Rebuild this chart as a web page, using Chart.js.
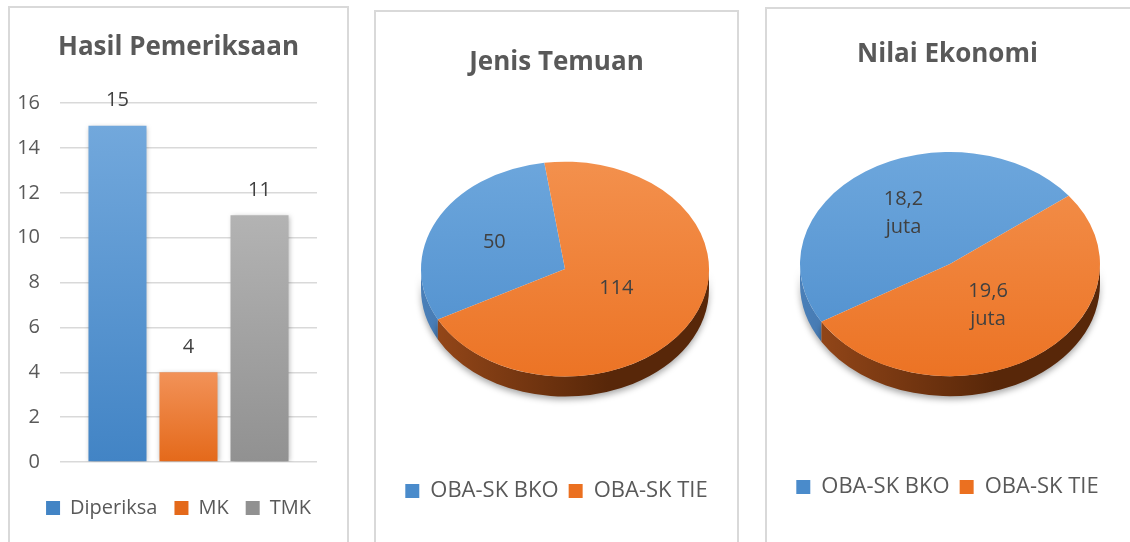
<!DOCTYPE html>
<html>
<head>
<meta charset="utf-8">
<script src="https://cdn.jsdelivr.net/npm/chart.js@4"></script>
<style>
  html, body { margin: 0; padding: 0; background: #fff; }
  body { width: 1130px; height: 542px; position: relative; overflow: hidden; }
  .panel { position: absolute; border: 2px solid #d9d9d9; box-sizing: border-box; height: 600px; }
  canvas { position: absolute; }
</style>
</head>
<body>
<div class="panel" style="left:8px; top:6px; width:341px;"></div>
<div class="panel" style="left:374px; top:10px; width:365px;"></div>
<div class="panel" style="left:765px; top:7px; width:368px;"></div>
<canvas id="hasilChart" width="337" height="534" style="left:10px; top:8px;"></canvas>
<canvas id="temuanChart" width="361" height="530" style="left:376px; top:12px;"></canvas>
<canvas id="ekonomiChart" width="361" height="533" style="left:767px; top:9px;"></canvas>
<script>
// Hasil Pemeriksaan
const hasilLabels = ['Diperiksa', 'MK', 'TMK'];
const hasilValues = [15, 4, 11];

// Jenis Temuan / Nilai Ekonomi
const pieLabels = ['OBA-SK BKO', 'OBA-SK TIE'];
const temuanValues = [50, 114];
const ekonomiValues = [18.2, 19.6]; // juta

const TEXT = '#595959';
const LABEL = '#404040';
Chart.defaults.font.family = "'Open Sans', sans-serif";
Chart.defaults.color = TEXT;
Chart.defaults.animation = false;

const barColors = [['#72a8dc', '#4284c5'], ['#f29258', '#e4691a'], ['#b3b3b3', '#919191']];

function barFill(pair) {
    return (c) => {
        const chart = c.chart;
        if (!chart.chartArea || !c.parsed) return pair[0];
        const ys = chart.scales.y;
        const g = chart.ctx.createLinearGradient(0, ys.getPixelForValue(c.parsed.y), 0, ys.getPixelForValue(0));
        g.addColorStop(0, pair[0]);
        g.addColorStop(1, pair[1]);
        return g;
    };
}

// soft shadow behind the bars + value labels above them
const barDecor = {
    id: 'barDecor',
    beforeDatasetsDraw(chart) {
        const ctx = chart.ctx;
        ctx.save();
        ctx.shadowColor = 'rgba(0,0,0,0.28)';
        ctx.shadowBlur = 5;
        ctx.shadowOffsetX = 1;
        ctx.shadowOffsetY = 1;
    },
    afterDatasetsDraw(chart) {
        const ctx = chart.ctx;
        ctx.restore();
        ctx.save();
        ctx.font = "20px 'Open Sans', sans-serif";
        ctx.fillStyle = LABEL;
        ctx.textAlign = 'center';
        ctx.textBaseline = 'middle';
        chart.data.datasets.forEach((ds, i) => {
            const bar = chart.getDatasetMeta(i).data[0];
            ctx.fillText(String(ds.data[0]), bar.x, bar.y - 25);
        });
        ctx.restore();
    }
};

new Chart(document.getElementById('hasilChart'), {
    type: 'bar',
    data: {
        labels: [''],
        datasets: hasilLabels.map((name, i) => ({
            label: name,
            data: [hasilValues[i]],
            backgroundColor: barFill(barColors[i]),
            borderWidth: 0,
            categoryPercentage: 0.829,
            barPercentage: 0.817
        }))
    },
    options: {
        responsive: false,
        layout: { padding: { left: 0, right: 0, top: 0, bottom: 14 } },
        scales: {
            x: {
                ticks: { display: false },
                grid: { display: false },
                border: { display: false },
                afterFit(s) { s.height = 19; }
            },
            y: {
                min: 0,
                max: 16,
                ticks: { stepSize: 2, padding: 20, color: TEXT, font: { size: 20 } },
                grid: { color: '#d9d9d9', lineWidth: 1.5, drawTicks: false },
                border: { display: false },
                afterFit(s) { s.width = 50; }
            },
            // empty right-hand gutter
            yRight: {
                position: 'right',
                ticks: { display: false },
                grid: { display: false },
                border: { display: false },
                afterFit(s) { s.width = 30; }
            }
        },
        plugins: {
            title: {
                display: true,
                text: 'Hasil Pemeriksaan',
                color: TEXT,
                font: { size: 26, weight: 'bold' },
                padding: { top: 24, bottom: 40 }
            },
            legend: {
                position: 'bottom',
                labels: { boxWidth: 14, boxHeight: 14, padding: 17, color: TEXT, font: { size: 20 } }
            },
            tooltip: { enabled: false }
        }
    },
    plugins: [barDecor]
});

// pies are drawn tilted: squashed vertically with an extruded rim
const pieTop = [['#70a9de', '#4a8bcb'], ['#f49452', '#eb7020']];
const pieSide = [['#4a7fb8', '#2f5d8f'], ['#98491a', '#582709']];

function pieFill(c) {
    const i = c.dataIndex;
    const chart = c.chart;
    const area = chart.chartArea;
    if (!area) return pieTop[i][0];
    const r = Math.min(area.right - area.left, area.bottom - area.top) / 2;
    const cy = (area.top + area.bottom) / 2;
    const g = chart.ctx.createLinearGradient(0, cy - r, 0, cy + r);
    g.addColorStop(0, pieTop[i][0]);
    g.addColorStop(1, pieTop[i][1]);
    return g;
}

const tiltPie = {
    id: 'tiltPie',
    beforeDatasetsDraw(chart, args, opts) {
        const arcs = chart.getDatasetMeta(0).data;
        const ctx = chart.ctx;
        ctx.save();
        if (!arcs.length) return;
        const cx = arcs[0].x, cy = arcs[0].y;
        ctx.translate(cx + opts.shiftX, cy + opts.shiftY);
        ctx.scale(1, opts.ratio);
        ctx.translate(-cx, -cy);
        const depth = opts.depth / opts.ratio;
        const TAU = Math.PI * 2;

        // rim, with a drop shadow under it
        ctx.save();
        ctx.shadowColor = 'rgba(0,0,0,0.35)';
        ctx.shadowBlur = 6;
        ctx.shadowOffsetY = 3;
        arcs.forEach((arc, i) => {
            const r = arc.outerRadius;
            let s = arc.startAngle % TAU;
            if (s < 0) s += TAU;
            const e = s + (arc.endAngle - arc.startAngle);
            [[0, Math.PI], [TAU, TAU + Math.PI]].forEach(([lo, hi]) => {
                const a = Math.max(s, lo), b = Math.min(e, hi);
                if (b <= a) return;
                ctx.beginPath();
                ctx.arc(cx, cy, r, a, b);
                ctx.arc(cx, cy + depth, r, b, a, true);
                ctx.closePath();
                const g = ctx.createLinearGradient(cx - r, 0, cx + r * 0.3, 0);
                g.addColorStop(0, pieSide[i][0]);
                g.addColorStop(1, pieSide[i][1]);
                ctx.fillStyle = g;
                ctx.fill();
            });
        });
        ctx.restore();
    },
    afterDatasetsDraw(chart, args, opts) {
        const ctx = chart.ctx;
        ctx.restore();
        const arcs = chart.getDatasetMeta(0).data;
        ctx.save();
        ctx.font = "20px 'Open Sans', sans-serif";
        ctx.fillStyle = LABEL;
        ctx.textAlign = 'center';
        ctx.textBaseline = 'middle';
        arcs.forEach((arc, i) => {
            const mid = (arc.startAngle + arc.endAngle) / 2;
            const rr = arc.outerRadius * opts.labelRadius[i];
            const x = arc.x + Math.cos(mid) * rr + opts.shiftX;
            const y = arc.y + opts.shiftY + Math.sin(mid) * rr * opts.ratio;
            const lines = opts.format(chart.data.datasets[0].data[i]);
            const lh = 28;
            lines.forEach((t, k) => {
                ctx.fillText(t, x, y + (k - (lines.length - 1) / 2) * lh);
            });
        });
        ctx.restore();
    }
};

function pieChart(id, title, values, cfg) {
    return new Chart(document.getElementById(id), {
        type: 'pie',
        data: {
            labels: pieLabels,
            datasets: [{
                data: values,
                backgroundColor: pieFill,
                borderWidth: 0,
                clip: false
            }]
        },
        options: {
            responsive: false,
            rotation: cfg.rotation,
            radius: cfg.radius,
            layout: { padding: { bottom: cfg.bottom } },
            plugins: {
                title: {
                    display: true,
                    text: title,
                    color: TEXT,
                    font: { size: 26, weight: 'bold' },
                    padding: { top: cfg.titleTop, bottom: 10 }
                },
                legend: {
                    position: 'bottom',
                    labels: { boxWidth: 14, boxHeight: 14, padding: 10, color: TEXT, font: { size: 22 } }
                },
                tooltip: { enabled: false },
                tiltPie: cfg.tilt
            }
        },
        plugins: [tiltPie]
    });
}

pieChart('temuanChart', 'Jenis Temuan', temuanValues, {
    rotation: 242,
    radius: 144,
    bottom: 30,
    titleTop: 35,
    tilt: {
        ratio: 0.746, depth: 20, shiftX: 8.5, shiftY: -10,
        labelRadius: [0.55, 0.4],
        format: (v) => [String(v)]
    }
});

pieChart('ekonomiChart', 'Nilai Ekonomi', ekonomiValues, {
    rotation: 239,
    radius: 150,
    bottom: 34,
    titleTop: 30,
    tilt: {
        ratio: 0.747, depth: 20, shiftX: 2.5, shiftY: -9,
        labelRadius: [0.55, 0.45],
        format: (v) => [String(v).replace('.', ','), 'juta']
    }
});
</script>
</body>
</html>
